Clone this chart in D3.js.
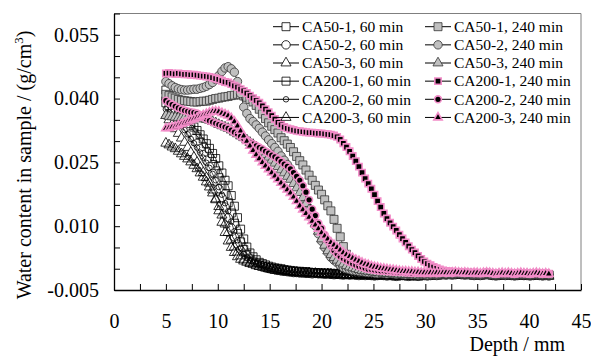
<!DOCTYPE html>
<html>
<head>
<meta charset="utf-8">
<script src="https://cdn.jsdelivr.net/npm/d3@7"></script>
<style>
  body { margin: 0; background: #fff; }
  svg { display: block; font-family: "Liberation Serif", "Times New Roman", serif; }
</style>
</head>
<body>
<svg id="chart" width="591" height="356"></svg>
<script>
// depth grid in mm, water content in 10^-3 g/cm3
const depth = d3.range(124).map(i => +(5 + 0.3 * i).toFixed(1))

const ca50_1_60 = [
  39.0, 38.3, 37.5, 36.8, 36.0, 35.3, 34.5, 33.7, 32.8, 31.9,
  31.0, 29.8, 28.6, 27.4, 26.0, 24.5, 23.0, 21.4, 19.6, 17.6,
  15.5, 13.1, 10.7, 8.3, 6.3, 4.5, 3.3, 2.3, 1.6, 1.1,
  0.8, 0.6, 0.4, 0.2, 0.0, -0.1, -0.3, -0.3, -0.5, -0.6,
  -0.6, -0.7, -0.8, -0.8, -0.9, -0.8, -1.0, -0.9, -1.0, -1.1,
  -1.0, -1.1, -1.2, -1.1, -1.2, -1.3, -1.2, -1.3, -1.2, -1.3,
  -1.4, -1.3, -1.3, -1.4, -1.3, -1.5, -1.4, -1.3, -1.4, -1.5,
  -1.4, -1.5, -1.4, -1.6, -1.5, -1.4, -1.5, -1.6, -1.5, -1.5,
  -1.6, -1.5, -1.4, -1.5, -1.6, -1.5, -1.4, -1.3, -1.4, -1.3,
  -1.2, -1.3, -1.2, -1.1, -1.2, -1.3, -1.2, -1.3, -1.4, -1.3,
  -1.3, -1.4, -1.3, -1.2, -1.3, -1.4, -1.5, -1.4, -1.3, -1.4,
  -1.3, -1.4, -1.5, -1.4, -1.3, -1.4, -1.4, -1.5, -1.4, -1.3,
  -1.4, -1.5, -1.4, -1.5
]
const ca50_2_60 = [
  40.0, 39.1, 38.2, 37.3, 36.4, 35.3, 34.2, 33.0, 31.8, 30.6,
  29.5, 28.2, 26.8, 25.5, 24.0, 22.4, 20.6, 18.8, 16.7, 14.5,
  12.0, 9.6, 7.5, 5.8, 4.3, 3.0, 2.3, 1.7, 1.3, 1.0,
  0.8, 0.6, 0.3, 0.1, -0.1, -0.2, -0.4, -0.5, -0.6, -0.7,
  -0.8, -0.9, -0.9, -1.0, -1.0, -1.1, -1.1, -1.2, -1.1, -1.2,
  -1.2, -1.3, -1.2, -1.3, -1.4, -1.3, -1.4, -1.5, -1.4, -1.5,
  -1.4, -1.5, -1.6, -1.5, -1.6, -1.5, -1.6, -1.7, -1.6, -1.5,
  -1.6, -1.7, -1.6, -1.7, -1.8, -1.7, -1.6, -1.7, -1.8, -1.7,
  -1.7, -1.8, -1.7, -1.6, -1.7, -1.6, -1.5, -1.6, -1.5, -1.4,
  -1.5, -1.4, -1.5, -1.4, -1.3, -1.4, -1.5, -1.4, -1.5, -1.6,
  -1.5, -1.6, -1.5, -1.4, -1.5, -1.6, -1.7, -1.6, -1.5, -1.6,
  -1.5, -1.6, -1.7, -1.6, -1.5, -1.6, -1.6, -1.7, -1.6, -1.5,
  -1.6, -1.7, -1.6, -1.7
]
const ca50_3_60 = [
  36.0, 35.0, 33.9, 32.9, 31.8, 30.7, 29.7, 28.5, 27.3, 26.2,
  25.0, 23.8, 22.6, 21.4, 20.1, 18.5, 16.2, 13.6, 10.9, 8.5,
  6.5, 5.0, 3.8, 2.8, 2.2, 1.8, 1.5, 1.2, 1.0, 0.7,
  0.5, 0.4, 0.2, 0.0, -0.1, -0.3, -0.4, -0.5, -0.6, -0.7,
  -0.8, -0.9, -1.0, -1.0, -1.1, -1.2, -1.1, -1.2, -1.3, -1.2,
  -1.3, -1.4, -1.3, -1.4, -1.5, -1.4, -1.5, -1.6, -1.5, -1.6,
  -1.5, -1.6, -1.7, -1.6, -1.7, -1.6, -1.7, -1.8, -1.7, -1.6,
  -1.7, -1.8, -1.7, -1.8, -1.9, -1.8, -1.7, -1.8, -1.9, -1.8,
  -1.8, -1.9, -1.8, -1.7, -1.8, -1.7, -1.6, -1.7, -1.6, -1.5,
  -1.6, -1.5, -1.6, -1.5, -1.4, -1.5, -1.6, -1.5, -1.6, -1.7,
  -1.6, -1.7, -1.6, -1.5, -1.6, -1.7, -1.8, -1.7, -1.6, -1.7,
  -1.6, -1.7, -1.8, -1.7, -1.6, -1.7, -1.7, -1.8, -1.7, -1.6,
  -1.7, -1.8, -1.7, -1.8
]
const ca200_1_60 = [
  42.0, 40.8, 39.6, 38.4, 37.5, 36.7, 36.0, 35.0, 34.1, 33.3,
  32.5, 31.5, 30.5, 29.4, 28.3, 27.1, 25.9, 24.2, 22.5, 20.8,
  19.5, 17.2, 14.7, 12.0, 9.3, 7.0, 5.1, 3.7, 2.8, 2.1,
  1.5, 1.2, 0.9, 0.6, 0.4, 0.2, 0.1, 0.0, -0.2, -0.3,
  -0.4, -0.5, -0.6, -0.6, -0.7, -0.7, -0.8, -0.9, -0.9, -1.0,
  -1.0, -1.1, -1.0, -1.1, -1.2, -1.1, -1.2, -1.1, -1.2, -1.3,
  -1.2, -1.3, -1.2, -1.3, -1.2, -1.3, -1.4, -1.3, -1.2, -1.3,
  -1.3, -1.4, -1.3, -1.4, -1.5, -1.4, -1.3, -1.4, -1.5, -1.4,
  -1.4, -1.5, -1.4, -1.3, -1.4, -1.3, -1.2, -1.3, -1.2, -1.1,
  -1.2, -1.1, -1.2, -1.1, -1.0, -1.1, -1.2, -1.1, -1.2, -1.3,
  -1.2, -1.3, -1.2, -1.1, -1.2, -1.3, -1.4, -1.3, -1.2, -1.3,
  -1.2, -1.3, -1.4, -1.3, -1.2, -1.3, -1.3, -1.4, -1.3, -1.2,
  -1.3, -1.4, -1.3, -1.4
]
const ca200_2_60 = [
  37.5, 36.8, 36.0, 35.3, 34.4, 33.5, 32.6, 31.6, 30.5, 29.5,
  28.5, 27.3, 26.1, 24.9, 23.7, 22.3, 20.8, 19.2, 17.4, 15.4,
  13.5, 11.1, 8.8, 6.7, 4.9, 3.5, 2.6, 1.9, 1.5, 1.1,
  0.8, 0.6, 0.4, 0.2, 0.0, -0.1, -0.3, -0.4, -0.5, -0.6,
  -0.7, -0.8, -0.8, -0.9, -0.9, -1.0, -1.0, -1.1, -1.0, -1.1,
  -1.1, -1.2, -1.1, -1.2, -1.3, -1.2, -1.3, -1.4, -1.3, -1.4,
  -1.3, -1.4, -1.5, -1.4, -1.5, -1.4, -1.5, -1.6, -1.5, -1.4,
  -1.5, -1.6, -1.5, -1.6, -1.7, -1.6, -1.5, -1.6, -1.7, -1.6,
  -1.6, -1.7, -1.6, -1.5, -1.6, -1.5, -1.4, -1.5, -1.4, -1.3,
  -1.4, -1.3, -1.4, -1.3, -1.2, -1.3, -1.4, -1.3, -1.4, -1.5,
  -1.4, -1.5, -1.4, -1.3, -1.4, -1.5, -1.6, -1.5, -1.4, -1.5,
  -1.4, -1.5, -1.6, -1.5, -1.4, -1.5, -1.5, -1.6, -1.5, -1.4,
  -1.5, -1.6, -1.5, -1.6
]
const ca200_3_60 = [
  29.5, 29.1, 28.6, 28.2, 27.6, 27.0, 26.4, 25.8, 25.1, 24.3,
  23.5, 22.5, 21.5, 20.4, 19.2, 17.8, 16.4, 14.6, 12.6, 10.5,
  8.5, 6.7, 5.1, 3.9, 3.0, 2.2, 1.8, 1.4, 1.2, 0.9,
  0.6, 0.4, 0.2, 0.0, -0.1, -0.3, -0.4, -0.5, -0.6, -0.7,
  -0.8, -0.9, -0.9, -1.0, -1.0, -1.1, -1.1, -1.2, -1.1, -1.2,
  -1.2, -1.3, -1.2, -1.3, -1.4, -1.3, -1.4, -1.5, -1.4, -1.5,
  -1.4, -1.5, -1.6, -1.5, -1.6, -1.5, -1.6, -1.7, -1.6, -1.5,
  -1.6, -1.7, -1.6, -1.7, -1.8, -1.7, -1.6, -1.7, -1.8, -1.7,
  -1.7, -1.8, -1.7, -1.6, -1.7, -1.6, -1.5, -1.6, -1.5, -1.4,
  -1.5, -1.4, -1.5, -1.4, -1.3, -1.4, -1.5, -1.4, -1.5, -1.6,
  -1.5, -1.6, -1.5, -1.4, -1.5, -1.6, -1.7, -1.6, -1.5, -1.6,
  -1.5, -1.6, -1.7, -1.6, -1.5, -1.6, -1.6, -1.7, -1.6, -1.5,
  -1.6, -1.7, -1.6, -1.7
]
const ca50_1_240 = [
  41.0, 40.7, 40.4, 40.1, 39.8, 39.6, 39.5, 39.4, 39.3, 39.2,
  39.2, 39.3, 39.4, 39.4, 39.6, 39.8, 40.0, 40.1, 40.3, 40.4,
  40.5, 40.7, 40.8, 41.0, 40.9, 40.6, 40.3, 39.8, 39.2, 38.4,
  37.5, 36.4, 35.3, 34.3, 33.5, 32.7, 31.9, 30.8, 30.1, 29.3,
  28.5, 27.5, 26.4, 25.4, 24.4, 23.2, 22.0, 20.8, 19.6, 18.5,
  17.5, 16.2, 14.8, 13.6, 11.6, 9.5, 7.5, 5.2, 3.4, 2.2,
  1.2, 0.6, 0.2, -0.1, -0.3, -0.5, -0.6, -0.7, -0.8, -0.9,
  -0.9, -1.0, -1.0, -1.1, -1.1, -1.2, -1.2, -1.3, -1.2, -1.3,
  -1.3, -1.4, -1.3, -1.4, -1.5, -1.4, -1.3, -1.4, -1.3, -1.2,
  -1.3, -1.2, -1.3, -1.2, -1.1, -1.2, -1.3, -1.2, -1.3, -1.4,
  -1.3, -1.4, -1.3, -1.2, -1.3, -1.4, -1.5, -1.4, -1.3, -1.4,
  -1.3, -1.4, -1.5, -1.4, -1.3, -1.4, -1.4, -1.5, -1.4, -1.3,
  -1.4, -1.5, -1.4, -1.5
]
const ca50_2_240 = [
  44.0, 43.5, 43.0, 42.6, 42.3, 42.1, 42.0, 42.0, 42.1, 42.2,
  42.2, 42.4, 42.6, 42.9, 43.3, 43.8, 44.5, 45.4, 46.4, 47.2,
  47.5, 47.0, 46.2, 44.0, 41.2, 38.0, 36.5, 35.3, 34.6, 33.8,
  33.0, 32.1, 31.2, 30.3, 29.4, 28.5, 27.6, 26.5, 25.5, 24.5,
  23.5, 22.2, 20.8, 19.5, 17.8, 16.0, 14.2, 12.2, 10.1, 8.2,
  6.5, 5.0, 3.8, 2.7, 2.0, 1.4, 0.8, 0.3, 0.0, -0.2,
  -0.4, -0.5, -0.6, -0.7, -0.8, -0.9, -0.9, -1.0, -1.1, -1.0,
  -1.1, -1.2, -1.1, -1.2, -1.3, -1.2, -1.3, -1.4, -1.3, -1.4,
  -1.4, -1.5, -1.4, -1.3, -1.4, -1.3, -1.2, -1.3, -1.2, -1.1,
  -1.2, -1.1, -1.2, -1.1, -1.0, -1.1, -1.2, -1.1, -1.2, -1.3,
  -1.2, -1.3, -1.2, -1.1, -1.2, -1.3, -1.4, -1.3, -1.2, -1.3,
  -1.2, -1.3, -1.4, -1.3, -1.2, -1.3, -1.3, -1.4, -1.3, -1.2,
  -1.3, -1.4, -1.3, -1.4
]
const ca50_3_240 = [
  36.0, 35.8, 35.7, 35.6, 35.5, 35.5, 35.5, 35.5, 35.5, 35.5,
  35.5, 35.4, 35.2, 35.1, 34.9, 34.6, 34.3, 33.9, 33.6, 33.3,
  33.0, 32.6, 32.1, 31.7, 31.2, 30.8, 30.3, 29.7, 29.2, 28.6,
  28.0, 27.4, 26.8, 26.2, 25.5, 24.8, 24.0, 23.2, 22.5, 21.7,
  21.0, 20.0, 19.0, 17.9, 16.7, 15.3, 13.9, 12.2, 10.6, 8.8,
  7.0, 5.5, 4.2, 3.3, 2.6, 2.0, 1.5, 1.1, 0.7, 0.4,
  0.2, 0.0, -0.2, -0.4, -0.5, -0.6, -0.7, -0.8, -0.9, -1.0,
  -1.0, -1.1, -1.1, -1.2, -1.2, -1.3, -1.3, -1.4, -1.3, -1.4,
  -1.4, -1.5, -1.4, -1.3, -1.4, -1.3, -1.2, -1.3, -1.2, -1.1,
  -1.2, -1.2, -1.3, -1.2, -1.1, -1.2, -1.3, -1.2, -1.3, -1.4,
  -1.3, -1.4, -1.3, -1.2, -1.3, -1.4, -1.5, -1.4, -1.3, -1.4,
  -1.3, -1.4, -1.5, -1.4, -1.3, -1.4, -1.4, -1.5, -1.4, -1.3,
  -1.4, -1.5, -1.4, -1.5
]
const ca200_1_240 = [
  45.9, 46.0, 45.9, 45.8, 45.9, 45.8, 45.7, 45.7, 45.6, 45.6,
  45.5, 45.4, 45.3, 45.2, 45.1, 44.9, 44.7, 44.5, 44.2, 43.9,
  43.8, 43.4, 43.0, 42.7, 42.2, 41.8, 41.3, 40.7, 40.1, 39.6,
  39.0, 38.3, 37.5, 36.8, 36.0, 35.2, 34.4, 33.8, 33.3, 33.0,
  32.8, 32.6, 32.4, 32.3, 32.2, 32.1, 32.0, 32.0, 31.9, 31.8,
  31.8, 31.7, 31.6, 31.5, 31.3, 31.0, 30.4, 29.5, 28.6, 27.6,
  26.5, 25.3, 24.0, 22.6, 21.2, 20.0, 18.8, 17.4, 15.9, 14.5,
  13.0, 11.8, 10.8, 9.9, 9.0, 8.0, 7.1, 6.2, 5.3, 4.5,
  3.8, 3.0, 2.3, 1.7, 1.2, 0.8, 0.4, 0.1, -0.2, -0.4,
  -0.5, -0.6, -0.7, -0.8, -0.8, -0.9, -0.9, -1.0, -1.0, -0.9,
  -1.0, -1.1, -1.0, -0.9, -1.0, -1.1, -1.2, -1.1, -1.0, -1.1,
  -1.0, -1.1, -1.2, -1.1, -1.0, -1.1, -1.1, -1.2, -1.1, -1.0,
  -1.1, -1.2, -1.1, -1.2
]
const ca200_2_240 = [
  39.5, 39.0, 38.6, 38.2, 37.8, 37.5, 37.2, 37.0, 36.8, 36.7,
  36.5, 36.1, 35.6, 35.2, 34.8, 34.5, 34.2, 33.9, 33.6, 33.3,
  33.0, 32.6, 32.1, 31.7, 31.1, 30.6, 30.2, 29.7, 29.3, 28.9,
  28.5, 28.1, 27.6, 27.2, 26.7, 26.3, 25.8, 25.2, 24.6, 24.1,
  23.5, 22.6, 21.7, 20.8, 19.5, 18.0, 16.2, 14.0, 12.5, 10.7,
  9.5, 8.0, 6.6, 5.4, 4.3, 3.5, 2.9, 2.4, 2.0, 1.6,
  1.2, 0.9, 0.6, 0.4, 0.1, -0.1, -0.2, -0.3, -0.4, -0.5,
  -0.5, -0.6, -0.6, -0.7, -0.7, -0.8, -0.8, -0.9, -0.9, -1.0,
  -0.9, -1.0, -1.0, -1.1, -1.0, -1.1, -1.0, -1.1, -1.0, -0.9,
  -1.0, -0.9, -1.0, -0.9, -0.8, -0.9, -1.0, -0.9, -1.0, -1.1,
  -1.0, -1.1, -1.0, -0.9, -1.0, -1.1, -1.2, -1.1, -1.0, -1.1,
  -1.0, -1.1, -1.2, -1.1, -1.0, -1.1, -1.1, -1.2, -1.1, -1.0,
  -1.1, -1.2, -1.1, -1.2
]
const ca200_3_240 = [
  33.0, 33.1, 33.3, 33.4, 33.7, 34.0, 34.3, 34.6, 34.9, 35.2,
  35.5, 35.8, 36.1, 36.4, 36.7, 36.9, 37.0, 36.9, 36.6, 36.3,
  36.0, 35.4, 34.6, 33.6, 32.4, 31.2, 30.0, 28.9, 27.8, 26.8,
  25.9, 25.0, 24.2, 23.4, 22.6, 21.8, 21.0, 20.2, 19.4, 18.6,
  17.8, 16.9, 15.9, 14.8, 13.9, 13.0, 12.1, 11.2, 10.3, 9.4,
  8.5, 7.7, 7.0, 6.2, 5.6, 5.0, 4.4, 3.8, 3.3, 2.9,
  2.5, 2.1, 1.8, 1.4, 1.1, 0.9, 0.6, 0.4, 0.3, 0.1,
  0.0, -0.1, -0.2, -0.3, -0.4, -0.5, -0.6, -0.6, -0.7, -0.7,
  -0.8, -0.8, -0.9, -0.9, -1.0, -0.9, -1.0, -0.9, -1.0, -0.9,
  -0.9, -1.0, -0.9, -0.8, -0.9, -1.0, -0.9, -1.0, -1.1, -1.0,
  -1.0, -1.1, -1.0, -0.9, -1.0, -1.1, -1.2, -1.1, -1.0, -1.1,
  -1.0, -1.1, -1.2, -1.1, -1.0, -1.1, -1.1, -1.2, -1.1, -1.0,
  -1.1, -1.2, -1.1, -1.2
]

const xTicks = d3.range(0, 46, 2.5)
const xLabels = [0, 5, 10, 15, 20, 25, 30, 35, 40, 45]
const yTicks = d3.range(-5, 61, 5)
const yLabels = [-5, 10, 25, 40, 55]

const pink = '#f28cc8'
const series = [
  { name: 'CA50-1, 60 min', values: ca50_1_60, shape: d3.symbolSquare, size: 64, fill: '#fff', stroke: '#000', sw: 0.8 },
  { name: 'CA50-2, 60 min', values: ca50_2_60, shape: d3.symbolCircle, size: 56, fill: '#fff', stroke: '#000', sw: 0.8 },
  { name: 'CA50-3, 60 min', values: ca50_3_60, shape: d3.symbolTriangle, size: 44, fill: '#fff', stroke: '#000', sw: 0.8 },
  { name: 'CA200-1, 60 min', values: ca200_1_60, shape: d3.symbolSquare, size: 64, fill: 'none', stroke: '#000', sw: 0.8 },
  { name: 'CA200-2, 60 min', values: ca200_2_60, shape: d3.symbolCircle, size: 24, fill: 'none', stroke: '#000', sw: 0.8 },
  { name: 'CA200-3, 60 min', values: ca200_3_60, shape: d3.symbolTriangle, size: 44, fill: 'none', stroke: '#000', sw: 0.8 },
  { name: 'CA50-1, 240 min', values: ca50_1_240, shape: d3.symbolSquare, size: 64, fill: '#c0c0c0', stroke: '#333', sw: 0.8 },
  { name: 'CA50-2, 240 min', values: ca50_2_240, shape: d3.symbolCircle, size: 56, fill: '#c0c0c0', stroke: '#333', sw: 0.8 },
  { name: 'CA50-3, 240 min', values: ca50_3_240, shape: d3.symbolTriangle, size: 44, fill: '#c0c0c0', stroke: '#333', sw: 0.8 },
  { name: 'CA200-1, 240 min', values: ca200_1_240, shape: d3.symbolSquare, size: 40, fill: '#000', stroke: pink, sw: 1.6 },
  { name: 'CA200-2, 240 min', values: ca200_2_240, shape: d3.symbolCircle, size: 36, fill: '#000', stroke: pink, sw: 1.6 },
  { name: 'CA200-3, 240 min', values: ca200_3_240, shape: d3.symbolTriangle, size: 30, fill: '#000', stroke: pink, sw: 1.6 }
]

const svg = d3.select('#chart')
const x = d3.scaleLinear().domain([0, 45]).range([114, 581])
const y = d3.scaleLinear().domain([-5, 60]).range([290, 13.5])

// frame (top and right in grey)
svg.append('path')
  .attr('d', `M${x(0)},${y(60)}H${x(45)}V${y(-5)}`)
  .attr('fill', 'none')
  .attr('stroke', '#7f7f7f')
  .attr('stroke-width', 1)

// data
const line = d3.line().x((d, i) => x(depth[i])).y(d => y(d))
const plot = svg.append('g')
series.forEach(s => {
  const g = plot.append('g')
  g.append('path')
    .datum(s.values)
    .attr('fill', 'none')
    .attr('stroke', '#000')
    .attr('stroke-width', 0.7)
    .attr('d', line)
  g.selectAll('path.m')
    .data(s.values)
    .join('path')
    .attr('class', 'm')
    .attr('transform', (d, i) => `translate(${x(depth[i])},${y(d)})`)
    .attr('d', d3.symbol(s.shape, s.size))
    .attr('fill', s.fill)
    .attr('stroke', s.stroke)
    .attr('stroke-width', s.sw)
})

// axes
const xAxis = svg.append('g')
  .attr('transform', `translate(0,${y(-5)})`)
  .call(d3.axisBottom(x)
    .tickValues(xTicks)
    .tickSizeInner(-6)
    .tickSizeOuter(0)
    .tickPadding(24)
    .tickFormat(d => xLabels.includes(d) ? d : ''))
const yAxis = svg.append('g')
  .attr('transform', `translate(${x(0)},0)`)
  .call(d3.axisLeft(y)
    .tickValues(yTicks)
    .tickSizeInner(-6)
    .tickSizeOuter(0)
    .tickPadding(15)
    .tickFormat(d => yLabels.includes(d) ? (d / 1000).toFixed(3) : ''))
;[xAxis, yAxis].forEach(a => {
  a.attr('font-family', null)
  a.select('.domain').attr('stroke', '#000').attr('stroke-width', 1.3)
  a.selectAll('.tick line').attr('stroke', '#000').attr('stroke-width', 1)
  a.selectAll('text')
    .attr('font-family', '"Liberation Serif", "Times New Roman", serif')
    .attr('font-size', 20)
    .attr('fill', '#000')
})

// axis titles
svg.append('text')
  .attr('x', 565)
  .attr('y', 351)
  .attr('text-anchor', 'end')
  .attr('font-size', 20)
  .text('Depth / mm')

const yTitle = svg.append('text')
  .attr('transform', 'translate(31,165) rotate(-90)')
  .attr('text-anchor', 'middle')
  .attr('font-size', 20)
yTitle.append('tspan').text('Water content in sample / (g/cm')
yTitle.append('tspan').attr('font-size', 13).attr('dy', -8).text('3')
yTitle.append('tspan').attr('dy', 8).text(')')

// legend
const legend = svg.append('g')
series.forEach((s, i) => {
  const col = i < 6 ? 0 : 1
  const row = i % 6
  const lx = col === 0 ? 273 : 425
  const ly = 26.7 + row * 18.15
  const g = legend.append('g').attr('transform', `translate(${lx},${ly})`)
  g.append('line')
    .attr('x1', 0).attr('x2', 26)
    .attr('stroke', '#000').attr('stroke-width', 1)
  g.append('path')
    .attr('transform', 'translate(13,0)')
    .attr('d', d3.symbol(s.shape, s.size))
    .attr('fill', s.fill)
    .attr('stroke', s.stroke)
    .attr('stroke-width', s.sw)
  g.append('text')
    .attr('x', 29)
    .attr('y', 5.3)
    .attr('font-size', 15.5)
    .text(s.name)
})
</script>
</body>
</html>
